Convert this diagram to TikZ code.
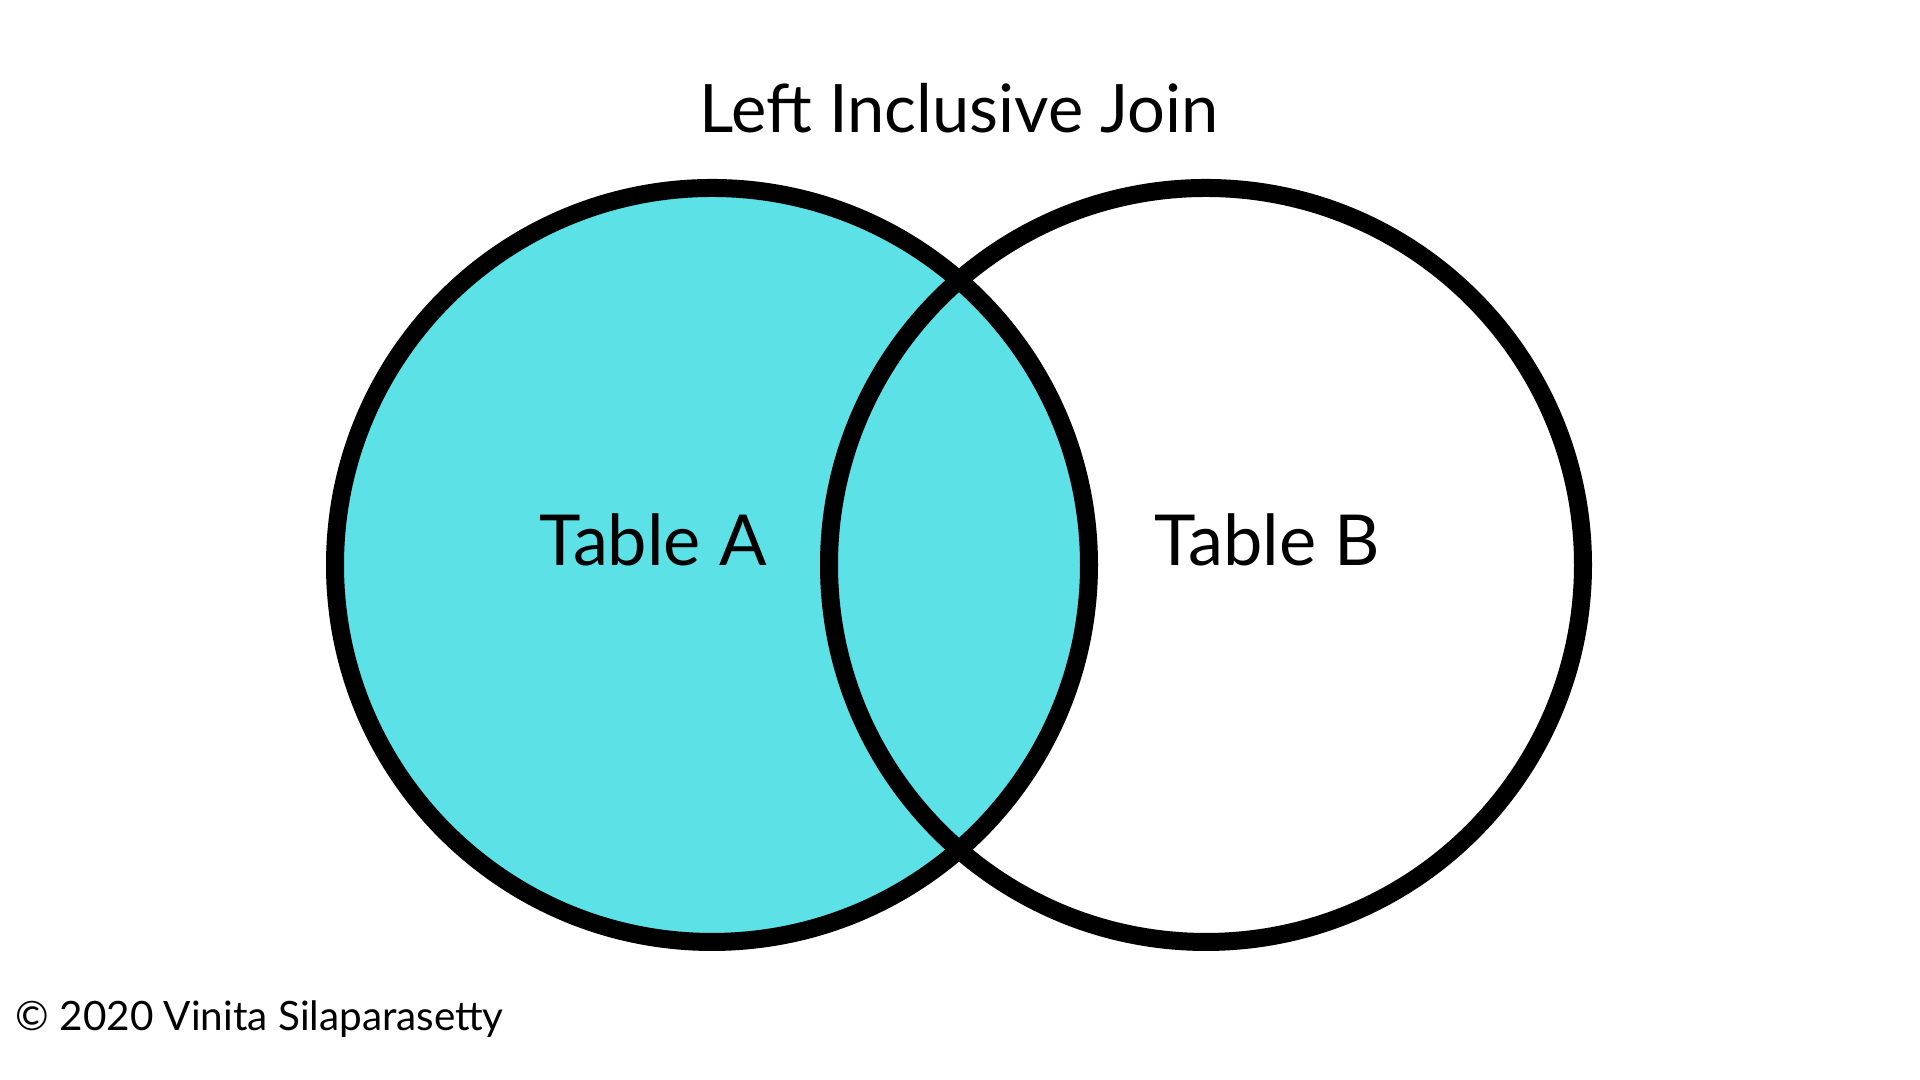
\documentclass[tikz,border=0pt]{standalone}
\usepackage{fontspec}
\setmainfont{Lato}
\definecolor{tabA}{HTML}{5CE1E6}
\tikzset{ring/.style={line width=0.18cm},
	lbl/.style={font=\fontsize{20pt}{24pt}\selectfont,anchor=base}}
\begin{document}
\begin{tikzpicture}[x=0.01cm,y=0.01cm,line join=round,line cap=round]
				\def \r{377}
				\useasboundingbox (0,0) rectangle (1920,1080);
				\coordinate (A) at (712,515);
				\coordinate (B) at (1206,515);
				\fill[tabA] (A) circle(\r);
				\draw[ring] (A) circle(\r) (B) circle(\r);
				\node[font=\fontsize{19pt}{23pt}\selectfont,anchor=base] (title) at (959,947) {Left Inclusive Join};
				\node[lbl] (ta) at (653,514) {Table A};
				\node[lbl] (tb) at (1267,514) {Table B};
				\node[font=\fontsize{11.5pt}{14pt}\selectfont,anchor=base west,inner sep=0pt] (copy) at (15,49) {\textcopyright{} 2020 Vinita Silaparasetty};
			\end{tikzpicture}
\end{document}
